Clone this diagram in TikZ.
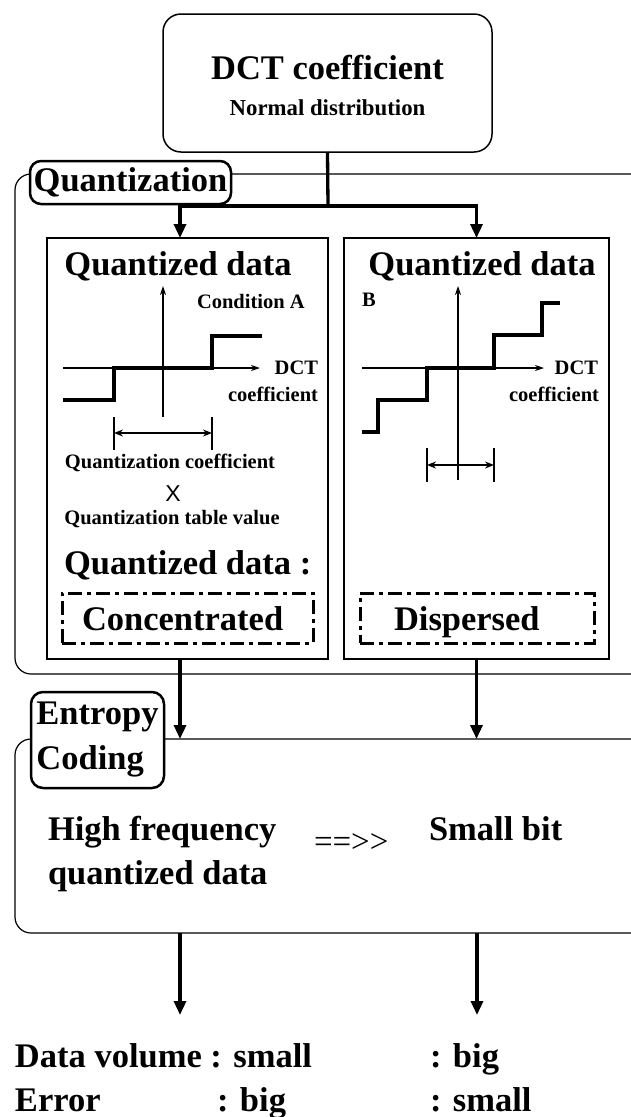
\documentclass[tikz,border=0pt]{standalone}
\usepackage{fontspec}
\setmainfont{Liberation Serif}
\newfontfamily\sansf{Liberation Sans}
\usetikzlibrary{arrows.meta}
\newcommand\fsz[1]{\fontsize{#1}{#1}\selectfont}
\begin{document}
\begin{tikzpicture}[x=1pt,y=-1pt,
  every node/.style={inner sep=0pt, outer sep=0pt},
  bigtxt/.style={font=\bfseries\fsz{34.5}},
  midtxt/.style={font=\bfseries\fsz{22.8}},
  smalltxt/.style={font=\bfseries\fsz{20.5}},
  box/.style={draw, line width=1.2pt, anchor=north west},
  frame/.style={draw, line width=1.2pt, rounded corners=16pt, anchor=north west},
  lab/.style={draw, fill=white, line width=2.5pt, rounded corners=11pt, anchor=north west},
  flow/.style={line width=3.3pt, -{Triangle[length=14pt,width=12pt]}},
  axis/.style={line width=1.2pt, -{Stealth[length=9pt,width=6pt]}},
  stair/.style={line width=3.6pt},
  span/.style={line width=1.5pt, {Stealth[length=9pt,width=7pt]}-{Stealth[length=9pt,width=7pt]}},
  tickline/.style={line width=1.5pt},
  dd/.style={draw, line width=3pt, dash pattern=on 14pt off 5pt on 4pt off 5pt, anchor=north west},
]
\useasboundingbox (0,0) rectangle (631,1117);
\clip (0,0) rectangle (631,1117);
\fill[white] (0,0) rectangle (631,1117);

% top box
\node[box, line width=1.5pt, rounded corners=18pt, minimum width=329pt, minimum height=138pt] (top) at (163,14) {};
\node[bigtxt, anchor=base] (t1) at (327.5,79) {DCT coefficient};
\node[midtxt, anchor=base] (t2) at (327.5,115) {Normal distribution};

% quantization frame
\node[frame, minimum width=660pt, minimum height=500pt] (qf) at (15,174) {};
\node[lab, bigtxt, minimum width=201pt, minimum height=43pt] (ql) at (30,161) {Quantization};

% inner boxes
\node[box, minimum width=281pt, minimum height=421pt] (qa) at (47,238) {};
\node[box, minimum width=265pt, minimum height=421pt] (qb) at (344,238) {};

% branch
\coordinate (br) at (328,206);
\draw[line width=3.3pt] (top.south) -- (br);
\draw[flow] (br) -| ([xshift=-7.5pt]qa.north);
\draw[flow] (br) -| (qb.north);

% left plot
\node[bigtxt, anchor=base] (qat) at (178,275) {Quantized data};
\node[smalltxt, anchor=base west] (ca) at (197,308) {Condition A};
\draw[axis] (63,368) -- (260,368);
\draw[axis] (163,417) -- (163,286);
\node[smalltxt, anchor=base east] (dcta) at (318,374) {DCT};
\node[smalltxt, anchor=base east] (cfa) at (318,401) {coefficient};
\draw[stair] (63,400) -- (114,400) -- (114,368) -- (212,368) -- (212,336) -- (262,336);
\draw[tickline] (114,417) -- (114,450);
\draw[tickline] (212,417) -- (212,450);
\draw[span] (114,433) -- (212,433);
\node[smalltxt, anchor=base] (qc) at (170,468) {Quantization coefficient};
\node[font=\sansf\fsz{23}, anchor=base] (xx) at (173,501) {X};
\node[smalltxt, anchor=base] (qtv) at (172,524) {Quantization table value};
\node[bigtxt, anchor=base west] (qd) at (64,574) {Quantized data :};
\node[dd, minimum width=251pt, minimum height=50pt] (conc) at (62,593) {};
\node[bigtxt, anchor=base west] (conct) at (82,630) {Concentrated};

% right plot
\node[bigtxt, anchor=base] (qbt) at (482,275) {Quantized data};
\node[smalltxt, anchor=base west] (bl) at (362,306) {B};
\draw[axis] (362,368) -- (544,368);
\draw[axis] (458,480) -- (458,286);
\node[smalltxt, anchor=base east] (dctb) at (598,374) {DCT};
\node[smalltxt, anchor=base east] (cfb) at (599,401) {coefficient};
\draw[stair] (362,432) -- (378,432) -- (378,400) -- (427,400) -- (427,368) -- (494,368) -- (494,335) -- (542,335) -- (542,303) -- (560,303);
\draw[tickline] (427,448) -- (427,482);
\draw[tickline] (494,448) -- (494,482);
\draw[span] (427,465) -- (494,465);
\node[dd, minimum width=234pt, minimum height=50pt] (disp) at (360,593) {};
\node[bigtxt, anchor=base west] (dispt) at (394,630) {Dispersed};

% entropy frame
\node[frame, minimum width=660pt, minimum height=194pt] (ef) at (15,739) {};
\node[lab, font=\bfseries\fontsize{34.5}{45}\selectfont, align=left, minimum width=133pt, minimum height=96pt, rounded corners=12pt] (el) at (31,692) {Entropy\\Coding};

\draw[flow] ([xshift=-7.5pt]qa.south) -- ([xshift=-7.5pt]qa.south |- ef.north);
\draw[flow] (qb.south) -- (qb.south |- ef.north);

\node[bigtxt, anchor=base west] (hf) at (48,840) {High frequency};
\node[bigtxt, anchor=base west] (qdd) at (48,884) {quantized data};
\node[font=\fsz{33}, anchor=west] (imp) at (314,843) {={}={}>{}>};
\node[bigtxt, anchor=base west] (sb) at (429,840) {Small bit};

% outputs
\coordinate (o1) at (180,1015);
\coordinate (o2) at (477,1015);
\draw[flow] (ef.south -| o1) -- (o1);
\draw[flow] (ef.south -| o2) -- (o2);

\node[bigtxt, anchor=base west] (dv) at (15,1067) {Data volume : small};
\node[bigtxt, anchor=base west] (dv2) at (430,1067) {: big};
\node[bigtxt, anchor=base west] (er) at (15,1111) {Error};
\node[bigtxt, anchor=base west] (er1) at (217,1111) {: big};
\node[bigtxt, anchor=base west] (er2) at (430,1111) {: small};
\end{tikzpicture}
\end{document}
